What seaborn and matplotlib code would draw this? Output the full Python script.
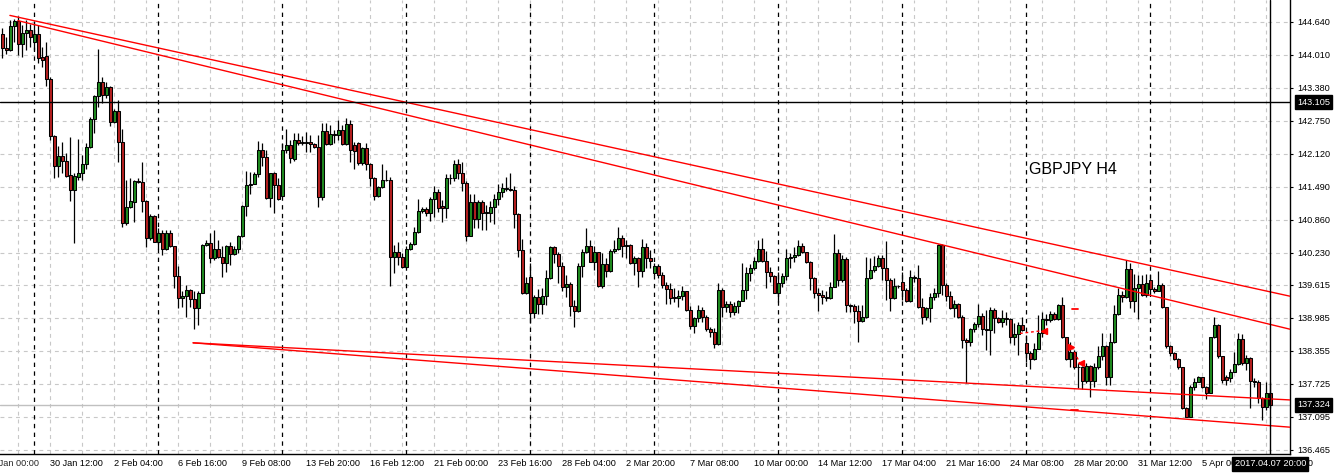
import numpy as np
import pandas as pd
import matplotlib
matplotlib.use("Agg")
import matplotlib.pyplot as plt
import matplotlib.transforms as mtransforms
import seaborn as sns

# --- GBPJPY H4 candles, 26 Jan - 7 Apr 2017 ---
opens = [
    144.40, 144.13, 144.10, 144.56, 144.65, 144.21, 144.42, 144.48, 144.26, 144.40,
    143.97, 143.99, 143.55, 142.46, 141.89, 142.08, 141.98, 141.71, 141.43, 141.68,
    141.76, 141.92, 142.24, 142.78, 143.23, 143.48, 143.24, 143.40, 142.72, 142.94,
    142.34, 140.79, 141.11, 141.20, 141.59, 141.58, 141.22, 140.52, 140.94, 140.44,
    140.60, 140.31, 140.60, 140.35, 139.79, 139.36, 139.41, 139.52, 139.34, 139.17,
    139.47, 140.38, 140.41, 140.12, 140.31, 140.15, 140.03, 140.36, 140.20, 140.31,
    140.55, 141.12, 141.52, 141.55, 141.73, 142.19, 142.06, 141.28, 141.75, 141.52,
    141.32, 142.19, 142.29, 142.02, 142.39, 142.35, 142.33, 142.35, 142.30, 142.25,
    141.30, 142.55, 142.30, 142.49, 142.48, 142.57, 142.30, 142.69, 142.29, 142.32,
    141.94, 142.22, 141.92, 141.65, 141.32, 141.48, 141.62, 141.61, 140.14, 140.24,
    140.14, 139.95, 140.31, 140.40, 140.62, 141.03, 141.06, 140.98, 141.25, 141.38,
    141.12, 141.08, 141.65, 141.66, 141.92, 141.76, 141.57, 140.55, 141.19, 140.87,
    141.19, 141.00, 140.98, 141.10, 141.25, 141.38, 141.46, 141.45, 141.42, 140.96,
    140.28, 139.47, 139.77, 139.07, 139.39, 139.26, 139.40, 139.74, 140.33, 140.20,
    139.98, 139.57, 139.63, 139.22, 139.12, 139.98, 140.24, 140.36, 140.06, 140.24,
    139.60, 140.01, 139.89, 140.27, 140.31, 140.52, 140.35, 140.38, 140.03, 140.12,
    139.89, 140.33, 140.12, 139.84, 139.98, 139.80, 139.62, 139.53, 139.39, 139.37,
    139.40, 139.49, 139.14, 138.84, 138.98, 139.14, 139.00, 138.77, 138.71, 138.48,
    139.52, 139.20, 139.26, 139.09, 139.21, 139.31, 139.52, 139.84, 139.94, 140.07,
    140.30, 140.08, 139.86, 139.79, 139.47, 139.65, 139.79, 140.12, 140.15, 140.19,
    140.35, 140.24, 140.06, 139.74, 139.46, 139.42, 139.39, 139.36, 139.58, 140.22,
    139.70, 140.11, 139.23, 139.22, 139.12, 138.93, 139.00, 139.74, 139.90, 139.98,
    140.12, 139.93, 139.70, 139.36, 139.60, 139.68, 139.52, 139.31, 139.76, 139.75,
    139.20, 139.01, 139.17, 139.38, 139.46, 140.38, 139.61, 139.40, 139.18, 139.26,
    139.01, 138.56, 138.52, 138.77, 138.86, 139.02, 138.77, 138.76, 139.14, 138.99,
    138.90, 138.98, 138.97, 138.63, 138.68, 138.85, 138.50, 138.31, 138.20, 138.40,
    138.70, 138.96, 138.95, 139.06, 138.96, 139.24, 138.62, 138.21, 138.34, 138.05,
    138.04, 137.79, 138.07, 137.79, 138.05, 138.25, 138.45, 137.86, 138.53, 139.06,
    139.42, 139.38, 139.92, 139.31, 139.55, 139.63, 139.42, 139.71, 139.53, 139.50,
    139.61, 139.19, 138.44, 138.32, 138.21, 138.04, 137.26, 137.10, 137.67, 137.77,
    137.85, 137.66, 137.56, 138.62, 138.85, 138.25, 137.86, 137.83, 137.96, 138.10,
    138.58, 138.12, 138.23, 137.78, 137.77, 137.45, 137.29, 137.55,
]
highs = [
    144.51, 144.35, 144.67, 144.70, 144.74, 144.58, 144.67, 144.59, 144.61, 144.58,
    144.16, 144.26, 143.59, 142.48, 142.27, 142.35, 142.13, 142.44, 141.75, 142.41,
    142.10, 142.32, 142.82, 143.24, 144.11, 143.59, 143.49, 143.41, 142.97, 143.15,
    142.60, 141.62, 141.66, 141.62, 141.65, 141.96, 141.24, 140.97, 140.95, 140.70,
    140.66, 140.66, 140.66, 140.36, 139.98, 139.50, 139.61, 139.53, 139.49, 139.49,
    140.39, 140.47, 140.60, 140.66, 140.47, 140.35, 140.38, 140.44, 140.35, 140.57,
    141.14, 141.79, 141.78, 141.78, 142.36, 142.32, 142.20, 141.76, 141.77, 141.65,
    142.33, 142.59, 142.38, 142.51, 142.51, 142.46, 142.54, 142.48, 142.33, 142.48,
    142.70, 142.70, 142.67, 142.57, 142.76, 142.67, 142.80, 142.76, 142.35, 142.35,
    142.25, 142.32, 141.94, 141.68, 141.50, 141.92, 141.81, 141.67, 140.38, 140.44,
    140.22, 140.35, 140.44, 140.73, 141.26, 141.10, 141.11, 141.30, 141.50, 141.45,
    141.24, 141.73, 141.73, 142.00, 142.01, 141.97, 141.59, 141.36, 141.36, 141.24,
    141.24, 141.14, 141.22, 141.36, 141.54, 141.57, 141.68, 141.75, 141.50, 140.98,
    140.49, 139.77, 140.03, 139.42, 139.53, 139.55, 139.90, 140.35, 140.35, 140.25,
    140.06, 139.80, 139.68, 139.33, 140.03, 140.31, 140.71, 140.47, 140.35, 140.25,
    140.22, 140.12, 140.30, 140.47, 140.73, 140.57, 140.47, 140.39, 140.17, 140.15,
    140.49, 140.41, 140.28, 140.03, 140.01, 139.87, 139.68, 139.65, 139.55, 139.52,
    139.60, 139.50, 139.21, 139.01, 139.23, 139.20, 139.04, 138.82, 138.80, 139.65,
    139.55, 139.31, 139.31, 139.29, 139.33, 140.03, 139.96, 140.01, 140.15, 140.47,
    140.52, 140.26, 139.96, 139.80, 139.87, 139.85, 140.31, 140.22, 140.33, 140.47,
    140.41, 140.25, 140.07, 139.77, 139.55, 139.52, 139.49, 139.68, 140.58, 140.30,
    140.19, 140.14, 139.26, 139.26, 139.24, 139.23, 140.15, 140.12, 140.17, 140.19,
    140.19, 140.45, 139.75, 139.75, 139.61, 139.87, 139.55, 139.90, 139.80, 139.99,
    139.36, 139.20, 139.46, 139.55, 140.39, 140.39, 139.65, 139.49, 139.33, 139.27,
    139.04, 138.60, 138.79, 138.91, 139.26, 139.07, 139.14, 139.20, 139.17, 139.01,
    139.14, 139.10, 138.98, 138.88, 138.91, 139.01, 138.66, 138.35, 138.50, 139.04,
    139.10, 139.06, 139.12, 139.10, 139.26, 139.39, 138.63, 138.53, 138.37, 138.12,
    138.06, 138.12, 138.09, 138.12, 138.44, 138.69, 138.47, 138.69, 139.23, 139.55,
    139.49, 140.09, 140.03, 139.82, 139.80, 139.80, 139.82, 139.82, 139.58, 139.89,
    139.65, 139.20, 138.47, 138.34, 138.23, 138.05, 137.29, 137.70, 137.83, 137.88,
    137.86, 137.69, 138.63, 139.01, 138.87, 138.26, 137.90, 138.02, 138.34, 138.69,
    138.68, 138.28, 138.24, 137.83, 137.80, 137.48, 137.77, 137.77,
]
lows = [
    143.94, 144.02, 144.09, 144.26, 144.00, 143.97, 144.10, 144.16, 144.10, 143.85,
    143.78, 143.41, 142.38, 141.65, 141.68, 141.75, 141.68, 141.22, 140.41, 141.62,
    141.62, 141.82, 142.23, 142.51, 143.02, 143.09, 143.18, 142.64, 142.70, 141.97,
    140.72, 140.76, 141.08, 140.82, 141.56, 141.00, 140.34, 140.47, 140.43, 140.31,
    140.19, 140.28, 140.33, 139.55, 139.18, 139.20, 139.01, 139.20, 138.77, 138.85,
    139.46, 140.35, 140.03, 140.09, 140.12, 139.77, 139.87, 139.99, 140.19, 140.22,
    140.53, 140.94, 141.35, 141.54, 141.67, 141.89, 141.26, 141.11, 140.99, 141.24,
    141.31, 142.14, 141.94, 141.99, 142.29, 142.29, 142.16, 142.16, 142.22, 141.10,
    141.24, 142.29, 142.29, 142.32, 142.38, 142.29, 142.29, 141.97, 141.82, 141.90,
    141.90, 141.81, 141.50, 141.24, 141.30, 141.46, 141.59, 139.60, 139.84, 139.99,
    139.93, 139.93, 140.28, 140.38, 140.61, 140.98, 140.93, 140.84, 140.92, 141.01,
    140.82, 140.89, 141.55, 141.60, 141.63, 141.41, 140.46, 140.54, 140.70, 140.70,
    140.66, 140.66, 140.82, 140.78, 141.14, 141.30, 141.40, 141.40, 140.70, 140.15,
    139.44, 139.44, 138.88, 138.98, 139.06, 139.06, 139.23, 139.72, 140.03, 139.66,
    139.49, 139.39, 139.03, 138.82, 139.10, 139.77, 140.22, 140.05, 139.90, 139.58,
    139.55, 139.77, 139.87, 140.22, 140.29, 140.15, 140.12, 140.01, 139.80, 139.58,
    139.77, 139.93, 139.93, 139.80, 139.74, 139.55, 139.26, 139.26, 139.29, 139.20,
    139.33, 139.12, 138.77, 138.69, 138.91, 138.91, 138.74, 138.63, 138.41, 138.46,
    139.01, 139.09, 139.01, 139.04, 139.07, 139.30, 139.35, 139.69, 139.90, 140.06,
    140.06, 139.55, 139.68, 139.46, 139.29, 139.58, 139.71, 139.93, 140.06, 140.17,
    140.22, 140.03, 139.52, 139.36, 139.12, 139.26, 139.31, 139.35, 139.57, 139.60,
    139.68, 139.09, 139.09, 138.88, 138.53, 138.91, 138.98, 139.72, 139.87, 139.96,
    139.71, 139.33, 139.12, 139.34, 139.55, 139.33, 139.28, 139.29, 139.68, 139.17,
    138.86, 138.95, 138.90, 139.33, 139.39, 139.42, 139.31, 139.15, 139.01, 138.98,
    138.41, 137.74, 138.44, 138.71, 138.82, 138.66, 138.37, 138.28, 138.69, 138.88,
    138.82, 138.85, 138.50, 138.47, 138.28, 138.74, 138.15, 138.02, 138.18, 138.39,
    138.63, 138.85, 138.90, 138.94, 138.94, 138.60, 138.19, 138.05, 138.02, 137.64,
    137.62, 137.74, 137.48, 137.67, 138.02, 138.18, 137.70, 137.70, 138.51, 139.04,
    139.29, 139.36, 139.17, 139.10, 138.96, 139.41, 139.39, 139.46, 139.47, 139.49,
    139.17, 138.41, 138.26, 138.18, 138.02, 137.24, 137.09, 137.09, 137.61, 137.77,
    137.64, 137.43, 137.55, 138.60, 138.23, 137.74, 137.70, 137.77, 137.95, 138.09,
    138.09, 137.99, 137.26, 137.67, 137.36, 137.04, 137.23, 137.26,
]
closes = [
    144.13, 144.10, 144.56, 144.65, 144.21, 144.42, 144.48, 144.35, 144.40, 143.94,
    143.91, 143.54, 142.46, 141.89, 142.08, 141.99, 141.70, 141.43, 141.69, 141.76,
    141.92, 142.24, 142.78, 143.23, 143.48, 143.24, 143.40, 142.72, 142.94, 142.34,
    140.79, 141.11, 141.22, 141.59, 141.58, 141.22, 140.52, 140.94, 140.44, 140.60,
    140.31, 140.60, 140.35, 139.79, 139.36, 139.41, 139.52, 139.34, 139.17, 139.47,
    140.38, 140.41, 140.12, 140.31, 140.15, 140.03, 140.36, 140.20, 140.31, 140.55,
    141.12, 141.52, 141.55, 141.73, 142.19, 142.06, 141.28, 141.75, 141.52, 141.26,
    142.19, 142.29, 142.03, 142.39, 142.33, 142.33, 142.35, 142.30, 142.25, 141.30,
    142.55, 142.30, 142.49, 142.48, 142.57, 142.30, 142.69, 142.19, 142.18, 141.94,
    142.22, 141.92, 141.65, 141.32, 141.48, 141.62, 141.61, 140.14, 140.24, 140.14,
    139.96, 140.31, 140.40, 140.62, 141.03, 141.06, 140.98, 141.25, 141.38, 141.08,
    141.08, 141.65, 141.66, 141.92, 141.76, 141.57, 140.55, 141.19, 140.87, 141.19,
    140.99, 140.98, 141.10, 141.25, 141.38, 141.46, 141.45, 141.42, 140.96, 140.28,
    139.47, 139.65, 139.07, 139.39, 139.26, 139.40, 139.74, 140.33, 140.20, 139.98,
    139.57, 139.63, 139.22, 139.12, 139.98, 140.24, 140.36, 140.06, 140.24, 139.60,
    140.01, 139.89, 140.27, 140.31, 140.52, 140.35, 140.38, 140.03, 140.12, 139.89,
    140.33, 140.12, 140.08, 139.98, 139.80, 139.62, 139.53, 139.37, 139.37, 139.40,
    139.49, 139.14, 138.84, 138.98, 139.14, 139.00, 138.77, 138.71, 138.48, 139.52,
    139.20, 139.26, 139.09, 139.21, 139.31, 139.52, 139.84, 139.94, 140.07, 140.30,
    140.08, 139.86, 139.79, 139.47, 139.65, 139.79, 140.12, 140.15, 140.19, 140.35,
    140.24, 140.06, 139.74, 139.46, 139.42, 139.39, 139.36, 139.58, 140.22, 139.70,
    140.11, 139.23, 139.22, 139.12, 138.93, 139.00, 139.74, 139.90, 139.98, 140.12,
    139.93, 139.70, 139.36, 139.60, 139.59, 139.52, 139.31, 139.76, 139.75, 139.20,
    139.01, 139.17, 139.38, 139.46, 140.38, 139.61, 139.40, 139.18, 139.26, 139.01,
    138.56, 138.52, 138.77, 138.86, 139.02, 138.77, 138.76, 139.14, 138.99, 138.90,
    138.98, 138.97, 138.63, 138.68, 138.85, 138.75, 138.31, 138.20, 138.40, 138.70,
    138.96, 138.95, 139.06, 138.96, 139.24, 138.62, 138.21, 138.34, 138.05, 138.04,
    137.79, 138.07, 137.79, 138.05, 138.25, 138.45, 137.86, 138.53, 139.06, 139.42,
    139.38, 139.92, 139.31, 139.55, 139.63, 139.42, 139.66, 139.53, 139.50, 139.61,
    139.19, 138.44, 138.32, 138.21, 138.04, 137.26, 137.10, 137.67, 137.77, 137.85,
    137.66, 137.56, 138.62, 138.85, 138.25, 137.81, 137.81, 137.96, 138.10, 138.58,
    138.12, 138.23, 137.78, 137.77, 137.45, 137.29, 137.55, 137.32,
]

# time axis labels (bar index -> label), first one is cut off by the left edge
tick_bars = [-4, 12, 28, 44, 60, 76, 92, 108, 124, 140, 156, 172, 188,
             204, 220, 236, 252, 268, 284, 300, 316]
tick_labels = ["26 Jan 00:00", "30 Jan 12:00", "2 Feb 04:00", "6 Feb 16:00",
               "9 Feb 08:00", "13 Feb 20:00", "16 Feb 12:00", "21 Feb 00:00",
               "23 Feb 16:00", "28 Feb 04:00", "2 Mar 20:00", "7 Mar 08:00",
               "10 Mar 00:00", "14 Mar 12:00", "17 Mar 04:00", "21 Mar 16:00",
               "24 Mar 08:00", "28 Mar 20:00", "31 Mar 12:00", "5 Apr 00:00",
               "7 Apr 16:00"]
price_ticks = [144.640, 144.010, 143.380, 142.750, 142.120, 141.490, 140.860,
               140.230, 139.615, 138.985, 138.355, 137.725, 137.095, 136.465]
price_labels = ["144.640", "144.010", "143.380", "142.750", "142.120", "141.490",
                "140.860", "140.230", "139.615", "138.985", "138.355", "137.725",
                "137.095", "136.465"]
week_starts = [8, 39, 70, 101, 132, 163, 194, 225, 256, 287]

# trend lines drawn on the chart: (bar, price) -> (bar, price)
trend_lines = [
    ((1.9, 144.76), (321.9, 139.40)),
    ((3.9, 144.66), (321.9, 138.77)),
    ((47.7, 138.51), (321.9, 137.42)),
    ((47.7, 138.51), (321.9, 136.90)),
]
# trade history marks
trade_path_1 = ([254.4, 259.8], [138.69, 138.74])
trade_path_2 = ([267.4, 269.4], [138.43, 138.12])
trade_arrows = [(260.3, 138.74, "<"), (267.2, 138.43, ">"), (269.6, 138.12, "<")]
trade_levels = [((267.3, 268.8), 139.16), ((267.2, 269.0), 137.22)]

crosshair_bar = 317
crosshair_price = 143.105
crosshair_time = "2017.04.07 20:00"
bid_price = 137.324

# --- build the chart ---
sns.set_style("white")
plt.rcParams['font.family'] = ['Liberation Sans', 'DejaVu Sans']

df = pd.DataFrame({'open': opens, 'high': highs, 'low': lows, 'close': closes})
df['bar'] = np.arange(len(df))
df['up'] = df['close'] >= df['open']

fig = plt.figure(figsize=(13.34, 4.73), dpi=100)
ax = fig.add_axes([0, 19 / 473, 1290 / 1334, 454 / 473])

x_lo, x_hi = -0.575, 321.9
y_lo, y_hi = 136.388, 145.054

grid_col = '#c8c8c8'
dash = (0, (3.5, 3.5))
ax.hlines(price_ticks, x_lo, x_hi, colors=grid_col, linestyles=dash, lw=0.8, zorder=0.5)
ax.vlines(np.arange(4, 322, 8), y_lo, y_hi, colors=grid_col, linestyles=dash, lw=0.8, zorder=0.5)
ax.vlines(week_starts, y_lo, y_hi, colors='black', linestyles=dash, lw=0.9, zorder=1)

ax.axhline(bid_price, color='#c0c0c0', lw=1.0, zorder=1.5)

# candles
ax.vlines(df['bar'], df['low'], df['high'], colors='black', lw=0.9, zorder=3)
body_lo = df[['open', 'close']].min(axis=1)
body_h = (df['close'] - df['open']).abs()
body_col = np.where(df['up'], '#1f8a1f', '#b51f1f')
ax.bar(df['bar'], body_h, bottom=body_lo, width=0.6, color=body_col,
       edgecolor='black', linewidth=0.75, zorder=4)

# trend lines
for (b0, p0), (b1, p1) in trend_lines:
    sns.lineplot(x=[b0, b1], y=[p0, p1], ax=ax, color='#ff0000', linewidth=1.0, zorder=5)

# trade marks
for path in (trade_path_1, trade_path_2):
    ax.plot(path[0], path[1], color='#ff0000', lw=1.0, ls=(0, (2, 2)), zorder=5)
for b, p, m in trade_arrows:
    ax.plot([b], [p], marker=m, color='#ff0000', ms=4, zorder=5)
for (b0, b1), p in trade_levels:
    ax.plot([b0, b1], [p, p], color='#ff0000', lw=1.3, zorder=5)

# crosshair
ax.axhline(crosshair_price, color='black', lw=1.0, zorder=6)
ax.axvline(crosshair_bar, color='black', lw=1.0, zorder=6)

ax.text(0.798, 0.626, 'GBPJPY H4', transform=ax.transAxes, fontsize=11.5,
        va='center', ha='left', color='black')

ax.set_xlim(x_lo, x_hi)
ax.set_ylim(y_lo, y_hi)
ax.set_xlabel('')
ax.set_ylabel('')

for s in ['top', 'left']:
    ax.spines[s].set_visible(False)
for s in ['right', 'bottom']:
    ax.spines[s].set_color('black')
    ax.spines[s].set_linewidth(1.0)

ax.yaxis.tick_right()
ax.set_yticks(price_ticks, price_labels)
ax.tick_params(axis='y', direction='out', length=2.2, width=0.8, pad=2.9,
               labelsize=6.6, colors='black')

ax.set_xticks(tick_bars[1:], tick_labels[1:])
for lbl in ax.get_xticklabels():
    lbl.set_ha('left')
ax.tick_params(axis='x', direction='out', length=2.2, width=0.8, pad=1.6,
               labelsize=6.6, colors='black')

below = mtransforms.offset_copy(ax.get_xaxis_transform(), fig=fig, y=-3.8, units='points')
ax.text(tick_bars[0], 0, tick_labels[0], transform=below, fontsize=6.6,
        ha='left', va='top', clip_on=False)

# value boxes on the axes
box = dict(boxstyle='square,pad=0.25', fc='black', ec='black')
side = mtransforms.blended_transform_factory(ax.transAxes, ax.transData)
ax.text(1.0055, crosshair_price, f"{crosshair_price:.3f}", transform=side, fontsize=6.6,
        color='white', va='center', ha='left', bbox=box, clip_on=False, zorder=7)
ax.text(1.0055, bid_price, f"{bid_price:.3f}", transform=side, fontsize=6.6,
        color='white', va='center', ha='left', bbox=box, clip_on=False, zorder=7)
ax.text(crosshair_bar, 0, crosshair_time, transform=below, fontsize=6.6,
        color='white', va='top', ha='center', bbox=box, clip_on=False, zorder=7)

fig.savefig('out.png', dpi=100, facecolor='white')
